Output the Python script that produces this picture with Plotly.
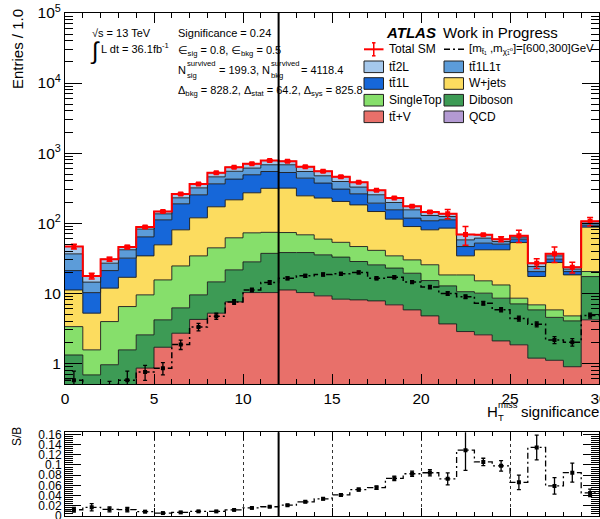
import numpy as np
import plotly.graph_objects as go

# ---------------- data: H_T^miss significance, 30 bins of width 1.0 ----------------
bin_edges = [float(i) for i in range(31)]

ttV = [0.12, 0.10, 0.20, 0.40, 0.85, 1.69, 2.68, 4.22, 5.18, 7.51,
       10.2, 10.2, 11.1, 10.2, 9.15, 8.21, 8.02, 7.76, 6.81, 5.77,
       4.74, 3.64, 2.83, 2.54, 2.08, 1.83, 1.18, 1.10, 0.89, 4.16]
diboson = [1.19, 0.58, 0.75, 1.15, 1.69, 2.47, 3.49, 5.24, 9.32, 14.0,
           17.8, 26.8, 26.9, 27.8, 26.1, 24.5, 20.3, 17.6, 16.0, 13.5,
           10.4, 9.06, 7.67, 7.46, 6.40, 5.20, 4.59, 3.41, 3.13, 13.1]
singletop = [2.02, 0.87, 2.98, 4.89, 6.92, 11.3, 18.3, 24.6, 29.9, 40.2,
             44.7, 36.9, 35.4, 30.1, 23.9, 20.5, 18.0, 15.5, 11.3, 10.6,
             10.3, 5.5, 7.7, 5.0, 4.62, 1.45, 1.04, 1.26, 0.72, 3.1]
wjets = [7.77, 3.63, 7.87, 10.4, 24.6, 33.5, 55.7, 84.9, 126.6, 153.3,
         198.3, 240.0, 242.6, 176.9, 168.9, 150.8, 135.7, 105.6, 79.9, 59.5,
         54.8, 66.6, 15.9, 26.6, 28.5, 44.3, 10.5, 21.6, 13.5, 67.3]
tt1L = [9.9, 5.0, 9.2, 14.8, 29.6, 62.5, 108.5, 134.6, 193.0, 210.0,
        219.0, 232.0, 212.0, 194.0, 145.0, 102.0, 80.0, 46.5, 41.0, 28.6,
        27.8, 26.7, 12.2, 10.2, 8.5, 6.3, 3.0, 3.2, 2.1, 5.9]
tt1L1tau = [15.4, 4.2, 5.8, 10.0, 18.4, 24.3, 41.1, 65.4, 94.0, 125.0,
            121.0, 135.0, 153.0, 107.0, 101.0, 87.0, 65.0, 61.0, 42.0, 37.0,
            20.5, 12.7, 11.4, 9.3, 4.5, 4.0, 3.7, 3.5, 1.7, 6.4]
tt2L = [10.0, 3.2, 3.8, 3.9, 5.8, 11.2, 31.0, 44.0, 64.0, 79.0,
        92.0, 102.0, 84.0, 91.0, 77.0, 65.0, 56.0, 40.0, 32.0, 19.0,
        15.5, 11.8, 11.3, 6.9, 4.4, 2.9, 2.8, 2.4, 1.5, 6.0]
qcd = [0.0, 0.0, 0.0, 0.0, 0.0, 0.0, 0.0, 0.0, 0.0, 0.0,
       0.0, 0.0, 0.0, 0.0, 0.0, 0.0, 0.0, 0.0, 0.0, 0.0,
       0.0, 0.0, 0.0, 0.0, 0.0, 0.0, 0.0, 0.0, 0.0, 0.0]

# uncertainty on the total SM prediction
total_err = [3.7, 1.6, 2.1, 2.3, 3.5, 5.1, 9.1, 11.0, 15.7, 15.7,
             17.6, 23.5, 23.0, 19.0, 16.5, 18.3, 13.4, 8.8, 6.9, 6.1,
             5.8, 20.4, 20.7, 2.0, 4.7, 13.2, 4.3, 9.1, 4.2, 14.8]

# signal point [m_stop, m_LSP] = [600, 300] GeV
signal = [0.57, 0.30, 0.40, 0.57, 0.75, 0.85, 1.85, 3.3, 4.7, 7.5,
          11.1, 14.2, 16.3, 17.7, 18.5, 18.9, 19.8, 16.3, 16.9, 14.4,
          12.2, 9.9, 8.9, 7.2, 5.8, 4.35, 3.6, 2.15, 2.0, 4.8]
signal_err = [0.20, 0.12, 0.15, 0.20, 0.18, 0.17, 0.28, 0.40, 0.47, 0.60,
              0.67, 0.85, 0.80, 0.85, 0.90, 0.90, 0.95, 0.85, 0.85, 0.75,
              0.70, 0.60, 0.55, 0.45, 0.40, 0.35, 0.30, 0.25, 0.25, 0.40]

cut_value = 12.0
x_ticks = [0, 5, 10, 15, 20, 25, 30]
y_ticks = [1, 10, 100, 1e3, 1e4, 1e5]
y_ticktext = ["1", "10", "10<sup>2</sup>", "10<sup>3</sup>", "10<sup>4</sup>", "10<sup>5</sup>"]
r_ticks = [0, 0.02, 0.04, 0.06, 0.08, 0.1, 0.12, 0.14, 0.16]
r_ticktext = ["0", "0.02", "0.04", "0.06", "0.08", "0.1", "0.12", "0.14", "0.16"]

TB = "t\u0304"
COLORS = {
    "QCD": "#b39ad3",
    "ttV": "#e8706a",
    "Diboson": "#3d9b55",
    "SingleTop": "#86df6b",
    "W+jets": "#fcdc5f",
    "tt1L": "#1667d9",
    "tt1L1tau": "#5c9cd9",
    "tt2L": "#a5c8ec",
}

# ---------------- geometry helpers ----------------
W, H = 600, 519
ML, MR, MT, MB = 65, 1, 13, 3
PW, PH = W - ML - MR, H - MT - MB
FONT = "Liberation Sans, Arial, DejaVu Sans, sans-serif"


def px(xp):
    return (xp - ML) / PW


def py(yp):
    return (H - MB - yp) / PH


edges = np.asarray(bin_edges)
centers = 0.5 * (edges[:-1] + edges[1:])


def closed(v):
    v = np.asarray(v, dtype=float)
    return np.append(v, v[-1])


fig = go.Figure()

# ---------------- stacked backgrounds ----------------
stack = [
    ("QCD", qcd),
    ("ttV", ttV),
    ("Diboson", diboson),
    ("SingleTop", singletop),
    ("W+jets", wjets),
    ("tt1L", tt1L),
    ("tt1L1tau", tt1L1tau),
    ("tt2L", tt2L),
]
floor = 1e-3
fig.add_trace(go.Scatter(x=edges, y=np.full(edges.size, floor), mode="lines",
                         line=dict(width=0, shape="hv"), hoverinfo="skip",
                         showlegend=False))
running = np.full(centers.size, floor)
for name, vals in stack:
    running = running + np.asarray(vals, dtype=float)
    fig.add_trace(go.Scatter(
        x=edges, y=closed(running), mode="lines", name=name,
        line=dict(color="rgba(25,25,25,0.9)", width=1, shape="hv"),
        fill="tonexty", fillcolor=COLORS[name], hoverinfo="skip",
        showlegend=False))
total = running - floor

# ---------------- total SM ----------------
fig.add_trace(go.Scatter(x=edges, y=closed(total), mode="lines",
                         line=dict(color="#ff0000", width=2, shape="hv"),
                         showlegend=False, hoverinfo="skip"))
fig.add_trace(go.Scatter(x=centers, y=total, mode="markers",
                         marker=dict(symbol="square", size=5, color="#ff0000"),
                         error_y=dict(type="data", array=total_err, color="#ff0000",
                                      thickness=1.5, width=3),
                         showlegend=False, hoverinfo="skip"))

# ---------------- signal ----------------
DASHDOT = "6px,3px,2px,3px"
fig.add_trace(go.Scatter(x=edges, y=closed(signal), mode="lines",
                         line=dict(color="black", width=1.5, shape="hv", dash=DASHDOT),
                         showlegend=False, hoverinfo="skip"))
fig.add_trace(go.Scatter(x=centers, y=signal, mode="markers",
                         marker=dict(symbol="square", size=4, color="black"),
                         error_y=dict(type="data", array=signal_err, color="black",
                                      thickness=1.3, width=2),
                         showlegend=False, hoverinfo="skip"))

# ---------------- S/B ratio ----------------
sig = np.asarray(signal)
sig_e = np.asarray(signal_err)
bkg_e = np.asarray(total_err)
ratio = sig / total
ratio_err = ratio * np.sqrt((sig_e / sig) ** 2 + (bkg_e / total) ** 2)
fig.add_trace(go.Scatter(x=edges, y=closed(ratio), mode="lines", xaxis="x2", yaxis="y2",
                         line=dict(color="black", width=1.3, shape="hv", dash=DASHDOT),
                         showlegend=False, hoverinfo="skip"))
fig.add_trace(go.Scatter(x=centers, y=ratio, mode="markers", xaxis="x2", yaxis="y2",
                         marker=dict(symbol="square", size=4, color="black"),
                         error_y=dict(type="data", array=ratio_err, color="black",
                                      thickness=1.3, width=2),
                         showlegend=False, hoverinfo="skip"))

# ---------------- axes ----------------
log_minor = [m * 10.0 ** k for k in range(-1, 5) for m in range(2, 10)]
log_minor = [v for v in log_minor if 0.5 <= v <= 1e5]
main_low = py(384.3)
ratio_high = py(432.3)

axis_common = dict(showline=True, linecolor="black", linewidth=1, mirror="allticks",
                   ticks="inside", tickcolor="black", zeroline=False, showgrid=False,
                   ticklabeloverflow="allow", automargin=False)

fig.update_layout(
    width=W, height=H,
    margin=dict(l=ML, r=MR, t=MT, b=MB, autoexpand=False),
    paper_bgcolor="white", plot_bgcolor="white",
    font=dict(family=FONT, color="black"),
    showlegend=False,
    xaxis=dict(domain=[0, 1], range=[0, 30], anchor="y",
               tickmode="array", tickvals=x_ticks, ticktext=[str(t) for t in x_ticks],
               ticklen=10, tickwidth=1, tickfont=dict(size=15.5),
               minor=dict(dtick=1, tick0=0, ticks="inside", ticklen=5, tickcolor="black"),
               **axis_common),
    yaxis=dict(type="log", domain=[main_low, 1], range=[np.log10(0.5), 5], anchor="x",
               tickmode="array", tickvals=y_ticks, ticktext=y_ticktext,
               ticklen=17, tickwidth=1, tickfont=dict(size=15.5),
               minor=dict(tickvals=log_minor, ticks="inside", ticklen=8, tickcolor="black"),
               **axis_common),
    xaxis2=dict(domain=[0, 1], range=[0, 30], anchor="y2",
                tickmode="array", tickvals=x_ticks, showticklabels=False,
                ticklen=8, tickwidth=1, automargin=False,
                minor=dict(dtick=1, tick0=0, ticks="inside", ticklen=4, tickcolor="black"),
                showline=True, linecolor="black", linewidth=1, mirror="allticks",
                ticks="inside", tickcolor="black", zeroline=False,
                showgrid=True, gridcolor="rgba(0,0,0,0.8)", gridwidth=1, griddash="dot"),
    yaxis2=dict(domain=[0, ratio_high], range=[0, 0.164], anchor="x2",
                tickmode="array", tickvals=r_ticks, ticktext=r_ticktext,
                ticklen=16, tickwidth=1, tickfont=dict(size=12),
                minor=dict(dtick=0.004, tick0=0, ticks="inside", ticklen=8, tickcolor="black"),
                **axis_common),
)

# cut line in both panels
fig.add_shape(type="line", xref="x", yref="y domain", x0=cut_value, x1=cut_value, y0=0, y1=1,
              line=dict(color="black", width=2), layer="above")
fig.add_shape(type="line", xref="x2", yref="y2 domain", x0=cut_value, x1=cut_value, y0=0, y1=1,
              line=dict(color="black", width=2), layer="above")


def note(text, x, y, size=11, xanchor="left", yanchor="middle", **kw):
    fig.add_annotation(text=text, x=px(x), y=py(y), xref="paper", yref="paper",
                       xanchor=xanchor, yanchor=yanchor, showarrow=False, borderpad=0,
                       font=dict(size=size, color="black", family=FONT), **kw)


# axis titles
note("Entries / 1.0", 17, 49, size=15, xanchor="center", textangle=-90)
note("S/B", 17, 437, size=12, xanchor="center", textangle=-90)
note("H", 486, 411, size=15)
note("miss", 497, 404.5, size=9.5)
note("T", 497, 417, size=9.5)
note("significance", 600, 411, size=15, xanchor="right")

# running conditions
note("\u221as = 13 TeV", 91, 33)
note("\u222b", 89, 51, size=24)
note("L dt = 36.1fb<sup>-1</sup>", 100, 48)

# selection summary
note("Significance = 0.24", 177, 33)
note("\u2208<sub>sig</sub> = 0.8, \u2208<sub>bkg</sub> = 0.5", 177, 51)
note("N", 177, 70)
note("survived", 185.5, 64, size=7.7)
note("sig", 185.5, 75.5, size=7.7)
note("= 199.3, N", 218, 70)
note("survived", 270, 64, size=7.7)
note("bkg", 270, 75.5, size=7.7)
note("= 4118.4", 300, 70)
note("\u0394<sub>bkg</sub> = 828.2, \u0394<sub>stat</sub> = 64.2, \u0394<sub>sys</sub> = 825.8", 177, 91)

# experiment label
note("<b><i>ATLAS</i></b>", 385, 32, size=15)
note("Work in Progress", 442, 32, size=15)

# ---------------- legend ----------------
def legend_box(x0, yc, color):
    fig.add_shape(type="rect", xref="paper", yref="paper",
                  x0=px(x0), x1=px(x0 + 19.5), y0=py(yc + 5.8), y1=py(yc - 5.8),
                  line=dict(color="#222222", width=1), fillcolor=color)


def legend_line(x0, x1, y0, y1, color, width, dash="solid"):
    fig.add_shape(type="line", xref="paper", yref="paper",
                  x0=px(x0), x1=px(x1), y0=py(y0), y1=py(y1),
                  line=dict(color=color, width=width, dash=dash))


C1, C2 = 364, 444
R0, R1, R2, R3, R4 = 49.3, 66.8, 83.5, 100.2, 116.8

legend_line(C1, C1 + 19.5, R0, R0, "#ff0000", 2)
legend_line(C1 + 9.75, C1 + 9.75, R0 - 6.5, R0 + 6.5, "#ff0000", 1.5)
legend_line(C1 + 8, C1 + 11.5, R0 - 6.5, R0 - 6.5, "#ff0000", 1.5)
legend_line(C1 + 8, C1 + 11.5, R0 + 6.5, R0 + 6.5, "#ff0000", 1.5)
note("Total SM", C1 + 24, R0, size=12)

legend_line(C2, C2 + 20, R0, R0, "black", 1.5, dash=DASHDOT)
note("[m<sub>t\u0303\u2081</sub> ,m<sub>\u03c7\u0303\u2081\u2070</sub>]=[600,300]GeV", C2 + 24, R0, size=11.5)

legend_box(C1, R1, COLORS["tt2L"])
note("t" + TB + "2L", C1 + 24, R1, size=12)
legend_box(C2, R1, COLORS["tt1L1tau"])
note("t" + TB + "1L1\u03c4", C2 + 24, R1, size=12)

legend_box(C1, R2, COLORS["tt1L"])
note("t" + TB + "1L", C1 + 24, R2, size=12)
legend_box(C2, R2, COLORS["W+jets"])
note("W+jets", C2 + 24, R2, size=12)

legend_box(C1, R3, COLORS["SingleTop"])
note("SingleTop", C1 + 24, R3, size=12)
legend_box(C2, R3, COLORS["Diboson"])
note("Diboson", C2 + 24, R3, size=12)

legend_box(C1, R4, COLORS["ttV"])
note("t" + TB + "+V", C1 + 24, R4, size=12)
legend_box(C2, R4, COLORS["QCD"])
note("QCD", C2 + 24, R4, size=12)

fig.write_html("out.html")
